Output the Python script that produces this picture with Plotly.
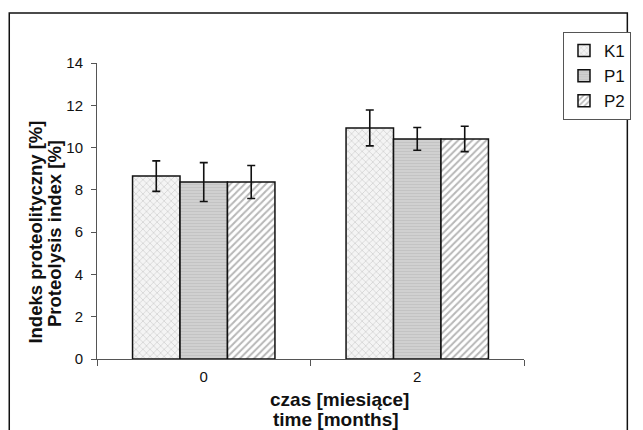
import plotly.graph_objects as go

categories = ["0", "2"]
series_names = ["K1", "P1", "P2"]
k1_values = [8.65, 10.93]
p1_values = [8.37, 10.41]
p2_values = [8.37, 10.41]
k1_err = [0.72, 0.85]
p1_err = [0.92, 0.54]
p2_err = [0.78, 0.60]
y_ticks = [0, 2, 4, 6, 8, 10, 12, 14]

FONT = "Liberation Sans, Arial, sans-serif"

patterns = [
    dict(shape="x", fgcolor="#a8a8a8", bgcolor="#f4f4f4", size=5, solidity=0.25),
    dict(shape="-", fgcolor="#b4b4b4", bgcolor="#d2d2d2", size=3, solidity=0.4),
    dict(shape="/", fgcolor="#707070", bgcolor="#ffffff", size=5, solidity=0.4),
]
values = [k1_values, p1_values, p2_values]
errs = [k1_err, p1_err, p2_err]

fig = go.Figure()
for name, vals, err, pat in zip(series_names, values, errs, patterns):
    fig.add_trace(go.Bar(
        x=categories, y=vals, name=name,
        marker=dict(color=pat["bgcolor"], pattern=pat,
                    line=dict(color="#111111", width=1.5)),
        error_y=dict(type="data", array=err, visible=True,
                     color="#111111", thickness=1.6, width=4),
    ))

L, R, T, B = 97, 535, 63, 359
W, H = 643, 430

fig.update_layout(
    width=W, height=H,
    margin=dict(l=L, r=W - R, t=T, b=H - B),
    paper_bgcolor="white", plot_bgcolor="white",
    barmode="group", bargap=0.333, bargroupgap=0,
    font=dict(family=FONT, size=15, color="#111111"),
    showlegend=True,
    legend=dict(
        x=(575 - L) / (R - L), y=(B - 32) / (B - T),
        xanchor="left", yanchor="top",
        bordercolor="#555555", borderwidth=1, bgcolor="white",
        font=dict(family=FONT, size=17, color="#111111"),
        itemwidth=30, tracegroupgap=0,
    ),
    xaxis=dict(
        type="category", categoryorder="array", categoryarray=categories,
        showline=True, linecolor="#555555", linewidth=1,
        ticks="outside", tickson="boundaries", ticklen=6,
        tickcolor="#555555", showgrid=False, zeroline=False,
        tickfont=dict(family=FONT, size=15, color="#111111"),
        ticklabelstandoff=4,
    ),
    yaxis=dict(
        range=[0, 14], tickvals=y_ticks, showline=True,
        linecolor="#555555", linewidth=1, ticks="outside", ticklen=5,
        tickcolor="#555555", showgrid=False, zeroline=False,
        tickfont=dict(family=FONT, size=15, color="#111111"),
        ticklabelstandoff=5,
    ),
    shapes=[
        dict(type="rect", xref="paper", yref="paper",
             x0=(7 - L) / (R - L), x1=(641 - L) / (R - L),
             y0=(B - 440) / (B - T), y1=(B - 13) / (B - T),
             line=dict(color="#111111", width=1.5), fillcolor="rgba(0,0,0,0)",
             layer="below"),
    ],
    annotations=[
        dict(text="<b>Indeks proteolityczny [%]</b>", xref="paper", yref="paper",
             x=(33 - L) / (R - L), y=(B - 232) / (B - T), textangle=-90,
             showarrow=False, xanchor="center", yanchor="middle",
             font=dict(family=FONT, size=18.5, color="#111111")),
        dict(text="<b>Proteolysis index [%]</b>", xref="paper", yref="paper",
             x=(54 - L) / (R - L), y=(B - 234) / (B - T), textangle=-90,
             showarrow=False, xanchor="center", yanchor="middle",
             font=dict(family=FONT, size=18.5, color="#111111")),
        dict(text="<b>czas [miesiące]</b>", xref="paper", yref="paper",
             x=(346 - L) / (R - L), y=(B - 399) / (B - T),
             showarrow=False, xanchor="center", yanchor="middle",
             font=dict(family=FONT, size=19, color="#111111")),
        dict(text="<b>time [months]</b>", xref="paper", yref="paper",
             x=(342 - L) / (R - L), y=(B - 419) / (B - T),
             showarrow=False, xanchor="center", yanchor="middle",
             font=dict(family=FONT, size=19, color="#111111")),
    ],
)

fig.write_html("out.html")
